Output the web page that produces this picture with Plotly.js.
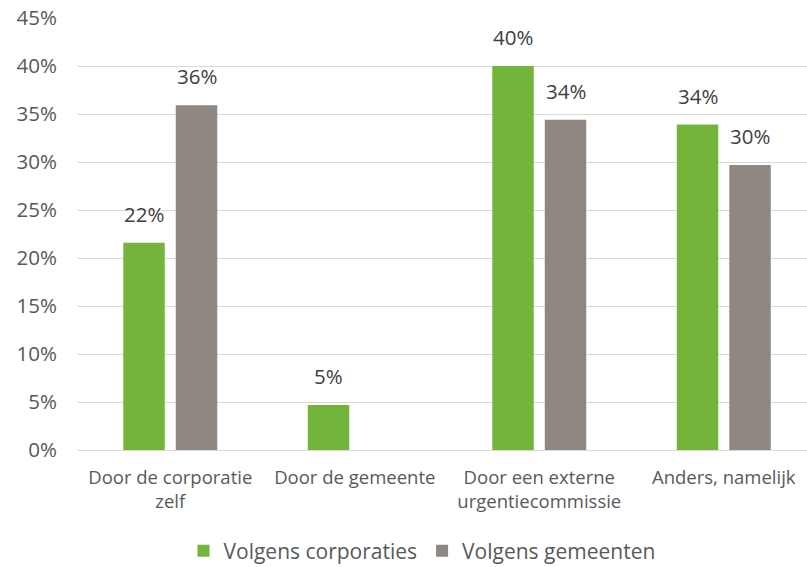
<!DOCTYPE html>
<html>
<head>
<meta charset="utf-8">
<script src="https://cdn.plot.ly/plotly-3.0.1.min.js"></script>
<style>html,body{margin:0;padding:0;background:#fff;}#chart{width:807px;height:567px;}</style>
</head>
<body>
<div id="chart"></div>
<script>
const categories = ["Door de corporatie<br>zelf", "Door de gemeente", "Door een externe<br>urgentiecommissie", "Anders, namelijk"];
const corporaties = [21.6, 4.7, 40.0, 33.9];
const gemeenten = [35.9, null, 34.4, 29.7];
const seriesNames = ["Volgens corporaties", "Volgens gemeenten"];
const yTicks = [0, 5, 10, 15, 20, 25, 30, 35, 40, 45];
const yTickText = ["0%", "5%", "10%", "15%", "20%", "25%", "30%", "35%", "40%", "45%"];

const font = "'Open Sans', sans-serif";
const colors = ["#72B53A", "#8F8882"];
const mk = (name, y, color) => ({
  type: "bar", name: name, x: categories, y: y,
  marker: {color: color},
  hoverinfo: "skip"
});
const data = [
  mk(seriesNames[0], corporaties, colors[0]),
  mk(seriesNames[1], gemeenten, colors[1])
];

// data labels derived from the series arrays
const annotations = [];
[corporaties, gemeenten].forEach((arr, si) => {
  arr.forEach((v, i) => {
    if (v === null) return;
    annotations.push({
      x: categories[i], y: v, xref: "x", yref: "y",
      text: Math.round(v) + "%", showarrow: false,
      xanchor: "center", yanchor: "bottom",
      xshift: si === 0 ? -26.25 : 26.25, yshift: 13,
      font: {family: font, size: 20.5, color: "#404040"}
    });
  });
});

const layout = {
  width: 807, height: 567,
  margin: {l: 78, r: 0, t: 18, b: 117},
  paper_bgcolor: "#fff", plot_bgcolor: "#fff",
  barmode: "group", bargap: 0.431, bargroupgap: 0.21,
  font: {family: font, size: 17, color: "#595959"},
  annotations: annotations,
  xaxis: {
    type: "category", range: [-0.5, 3.451], automargin: false,
    showgrid: false, zeroline: false, showline: false, ticks: "",
    ticklabelstandoff: 14,
    tickfont: {family: font, size: 18.5, color: "#595959"}, fixedrange: true
  },
  yaxis: {
    range: [0, 45], tickvals: yTicks, ticktext: yTickText, automargin: false,
    showgrid: true, gridcolor: "#d9d9d9", gridwidth: 1,
    zeroline: true, zerolinecolor: "#d9d9d9", zerolinewidth: 1,
    showline: false, ticks: "", ticklabelstandoff: 20,
    tickfont: {family: font, size: 20.5, color: "#595959"}, fixedrange: true
  },
  showlegend: true,
  legend: {
    orientation: "h", x: 422 / 807, xanchor: "center", xref: "container",
    yref: "container", y: 16 / 567, yanchor: "middle",
    font: {family: font, size: 21, color: "#595959"},
    itemwidth: 30, traceorder: "normal"
  }
};
Plotly.newPlot("chart", data, layout, {displayModeBar: false, staticPlot: true});
</script>
</body>
</html>
